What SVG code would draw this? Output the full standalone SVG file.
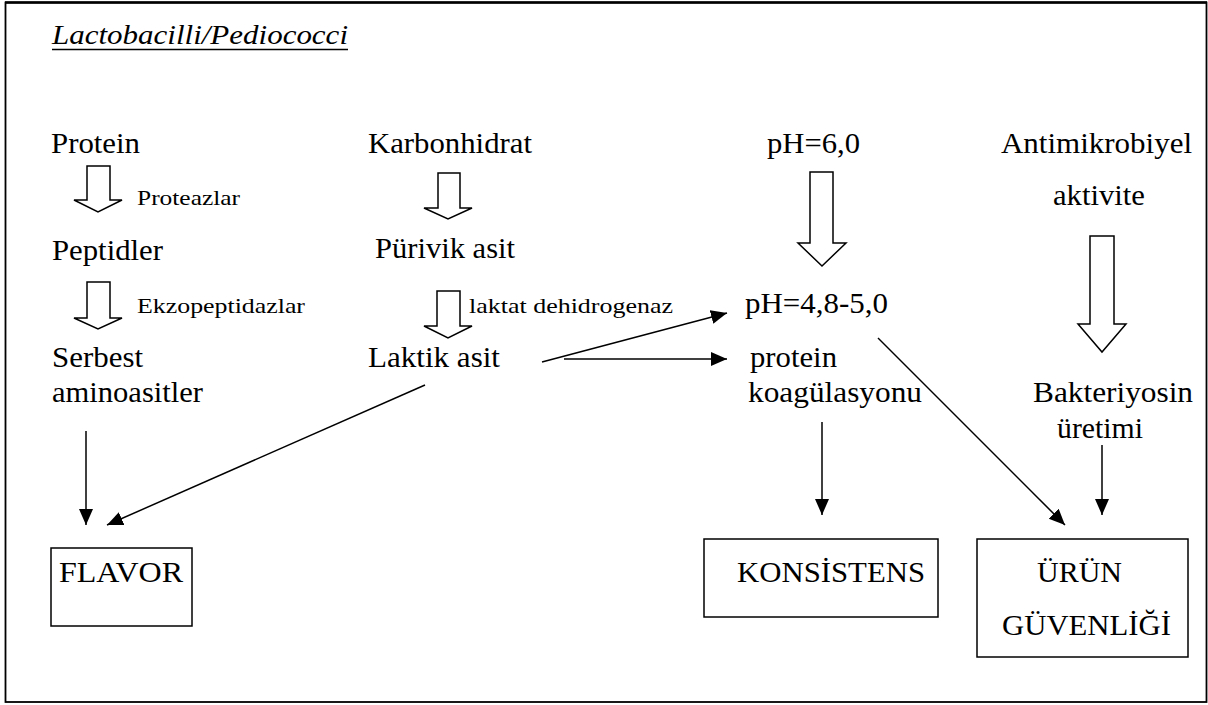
<svg xmlns="http://www.w3.org/2000/svg" width="1208" height="705" viewBox="0 0 1208 705">
<style>
text{font-family:"Liberation Serif","Times New Roman","DejaVu Serif",serif;fill:#000}
.m{font-size:29px}
.s{font-size:22px}
.t{font-size:27px;font-style:italic}
.box{fill:#fff;stroke:#000;stroke-width:1.5}
.ha{fill:#fff;stroke:#000;stroke-width:1.5;stroke-linejoin:miter}
.c{stroke:#000;stroke-width:1.5;fill:none;marker-end:url(#ah)}
</style>
<defs>
<marker id="ah" markerUnits="userSpaceOnUse" markerWidth="17" markerHeight="15" refX="16" refY="7" orient="auto">
<path d="M0,0 L16,7 L0,14 z" fill="#000"/>
</marker>
</defs>
<rect x="0" y="0" width="1208" height="705" fill="#fff"/>
<rect x="5.5" y="2.5" width="1201" height="699.5" fill="none" stroke="#000" stroke-width="1.8"/>
<line x1="5" y1="2.5" x2="1207" y2="2.5" stroke="#000" stroke-width="2.5"/>

<g id="title">
<text class="t" x="52" y="44" textLength="296" lengthAdjust="spacingAndGlyphs">Lactobacilli/Pediococci</text>
<line x1="52" y1="49.5" x2="348" y2="49.5" stroke="#000" stroke-width="1.5"/>
</g>

<g id="protein"><text class="m" x="51" y="153" textLength="89" lengthAdjust="spacingAndGlyphs">Protein</text></g>
<g id="karbonhidrat"><text class="m" x="368" y="153" textLength="164" lengthAdjust="spacingAndGlyphs">Karbonhidrat</text></g>
<g id="ph60"><text class="m" x="767" y="153" textLength="93" lengthAdjust="spacingAndGlyphs">pH=6,0</text></g>
<g id="antimikrobiyel"><text class="m" x="1001" y="153" textLength="191" lengthAdjust="spacingAndGlyphs">Antimikrobiyel</text><text class="m" x="1053" y="205" textLength="92" lengthAdjust="spacingAndGlyphs">aktivite</text></g>

<g id="arrow-proteazlar">
<path class="ha" d="M87,166 L110,166 L110,200 L122,200 L98,212 L74,200 L87,200 Z"/>
<text class="s" x="137" y="205" textLength="103" lengthAdjust="spacingAndGlyphs">Proteazlar</text>
</g>
<g id="arrow-ekzopeptidazlar">
<path class="ha" d="M87,282 L110,282 L110,318 L122,318 L98,329 L74,318 L87,318 Z"/>
<text class="s" x="137" y="313" textLength="168" lengthAdjust="spacingAndGlyphs">Ekzopeptidazlar</text>
</g>
<g id="arrow-karbonhidrat">
<path class="ha" d="M438,173 L460,173 L460,208 L472,208 L448,219 L424,208 L438,208 Z"/>
</g>
<g id="arrow-laktat">
<path class="ha" d="M437,291 L460,291 L460,326 L472,326 L448,338 L424,326 L437,326 Z"/>
<text class="s" x="469" y="313" textLength="204" lengthAdjust="spacingAndGlyphs">laktat dehidrogenaz</text>
</g>
<g id="arrow-ph">
<path class="ha" d="M810,172 L833,172 L833,243 L846,243 L822,266 L798,243 L810,243 Z"/>
</g>
<g id="arrow-antimikrobiyel">
<path class="ha" d="M1090,236 L1114,236 L1114,324 L1126,324 L1102,352 L1078,324 L1090,324 Z"/>
</g>

<g id="peptidler"><text class="m" x="52" y="260" textLength="111" lengthAdjust="spacingAndGlyphs">Peptidler</text></g>
<g id="purivik"><text class="m" x="375" y="258" textLength="140" lengthAdjust="spacingAndGlyphs">Pürivik asit</text></g>
<g id="ph48"><text class="m" x="745" y="313" textLength="143" lengthAdjust="spacingAndGlyphs">pH=4,8-5,0</text></g>
<g id="serbest"><text class="m" x="52" y="367" textLength="91" lengthAdjust="spacingAndGlyphs">Serbest</text><text class="m" x="52" y="402" textLength="151" lengthAdjust="spacingAndGlyphs">aminoasitler</text></g>
<g id="laktik"><text class="m" x="368" y="367" textLength="132" lengthAdjust="spacingAndGlyphs">Laktik asit</text></g>
<g id="koagulasyon"><text class="m" x="750" y="367" textLength="87" lengthAdjust="spacingAndGlyphs">protein</text><text class="m" x="748" y="402" textLength="174" lengthAdjust="spacingAndGlyphs">koagülasyonu</text></g>
<g id="bakteriyosin"><text class="m" x="1033" y="402" textLength="160" lengthAdjust="spacingAndGlyphs">Bakteriyosin</text><text class="m" x="1057" y="438" textLength="86" lengthAdjust="spacingAndGlyphs">üretimi</text></g>

<g id="flavor"><rect class="box" x="51" y="548" width="141" height="78"/><text class="m" x="59" y="582" textLength="124" lengthAdjust="spacingAndGlyphs">FLAVOR</text></g>
<g id="konsistens"><rect class="box" x="704" y="539" width="234" height="78"/><text class="m" x="737" y="582" textLength="188" lengthAdjust="spacingAndGlyphs">KONSİSTENS</text></g>
<g id="urun"><rect class="box" x="977" y="539" width="211" height="118"/><text class="m" x="1037" y="582" textLength="85" lengthAdjust="spacingAndGlyphs">ÜRÜN</text><text class="m" x="1002" y="635" textLength="169" lengthAdjust="spacingAndGlyphs">GÜVENLİĞİ</text></g>

<g id="connectors">
<line class="c" x1="86" y1="431" x2="86" y2="525"/>
<line class="c" x1="425" y1="385" x2="107" y2="525"/>
<line class="c" x1="542" y1="362" x2="727" y2="313"/>
<line class="c" x1="564" y1="359" x2="727" y2="359"/>
<line class="c" x1="822" y1="422" x2="822" y2="515"/>
<line class="c" x1="878" y1="338" x2="1065" y2="525"/>
<line class="c" x1="1102" y1="445" x2="1102" y2="515"/>
</g>
</svg>
